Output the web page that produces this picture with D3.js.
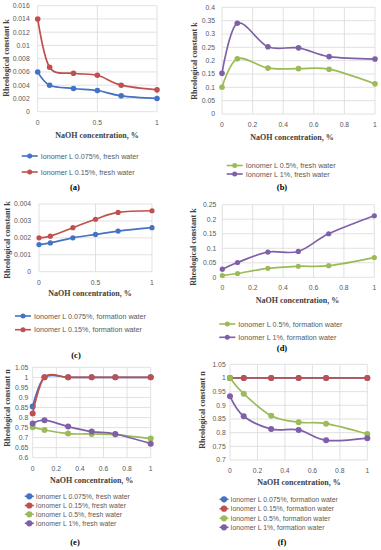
<!DOCTYPE html>
<html><head><meta charset="utf-8">
<script src="https://cdn.jsdelivr.net/npm/d3@7/dist/d3.min.js"></script>
<style>body{margin:0;background:#fff}svg{display:block}</style>
</head><body>
<script>
// ---------- DATA ----------
const naoh = [0, 0.1, 0.3, 0.5, 0.7, 1];

// (a) k, fresh water
const kFresh075 = [0.006, 0.004, 0.0035, 0.0032, 0.0024, 0.002];
const kFresh015 = [0.014, 0.0067, 0.0058, 0.0055, 0.004, 0.0033];
// (b) k, fresh water
const kFresh05 = [0.1, 0.207, 0.172, 0.17, 0.168, 0.113];
const kFresh1 = [0.153, 0.34, 0.252, 0.248, 0.215, 0.206];
// (c) k, formation water
const kForm075 = [0.0016, 0.0017, 0.002, 0.0022, 0.0024, 0.0026];
const kForm015 = [0.002, 0.0021, 0.0026, 0.0031, 0.0035, 0.0036];
// (d) k, formation water
const kForm05 = [0.006, 0.013, 0.031, 0.038, 0.04, 0.068];
const kForm1 = [0.028, 0.051, 0.087, 0.089, 0.15, 0.212];
// (e) n, fresh water
const nFresh075 = [0.855, 1.0, 1.0, 1.0, 1.0, 1.0];
const nFresh015 = [0.82, 1.0, 1.0, 1.0, 1.0, 1.0];
const nFresh05 = [0.752, 0.738, 0.72, 0.718, 0.715, 0.695];
const nFresh1 = [0.77, 0.787, 0.755, 0.73, 0.718, 0.67];
// (f) n, formation water
const nForm075 = [1.0, 1.0, 1.0, 1.0, 1.0, 1.0];
const nForm015 = [1.0, 1.0, 1.0, 1.0, 1.0, 1.0];
const nForm05 = [1.0, 0.942, 0.862, 0.838, 0.833, 0.795];
const nForm1 = [0.933, 0.86, 0.813, 0.81, 0.772, 0.78];

// tick values
const xTicksHalf = [0, 0.5, 1];
const xTicksFifth = [0, 0.2, 0.4, 0.6, 0.8, 1];
const yTicksA = [0, 0.002, 0.004, 0.006, 0.008, 0.01, 0.012, 0.014, 0.016];
const yTicksB = [0, 0.05, 0.1, 0.15, 0.2, 0.25, 0.3, 0.35, 0.4];
const yTicksC = [0, 0.001, 0.002, 0.003, 0.004];
const yTicksD = [0, 0.05, 0.1, 0.15, 0.2, 0.25];
const yTicksE = [0.6, 0.65, 0.7, 0.75, 0.8, 0.85, 0.9, 0.95, 1, 1.05];
const yTicksF = [0.7, 0.75, 0.8, 0.85, 0.9, 0.95, 1, 1.05];

const namesA = ["Ionomer L 0.075%, fresh water", "Ionomer L 0.15%, fresh water"];
const namesB = ["Ionomer L 0.5%, fresh water", "Ionomer L 1%, fresh water"];
const namesC = ["Ionomer L 0.075%, formation water", "Ionomer L 0.15%, formation water"];
const namesD = ["Ionomer L 0.5%, formation water", "Ionomer L 1%, formation water"];
const namesE = ["Ionomer L 0.075%, fresh water", "Ionomer L 0.15%, fresh water", "Ionomer L 0.5%, fresh water", "Ionomer L 1%, fresh water"];
const namesF = ["Ionomer L 0.075%, formation water", "Ionomer L 0.15%, formation water", "Ionomer L 0.5%, formation water", "Ionomer L 1%, formation water"];
const panelLabels = ["(a)", "(b)", "(c)", "(d)", "(e)", "(f)"];
const xTitle = "NaOH concentration, %";
const yTitleK = "Rheological constant k";
const yTitleN = "Rheological constant n";

// ---------- STYLE ----------
const C = {blue: "#4472C4", red: "#C0504D", green: "#9BBB59", purple: "#7F5FA8"};
const W = 381, H = 550;
const SANS = "Liberation Sans, Arial, sans-serif";
const SERIF = "Liberation Serif, Times New Roman, serif";
const svg = d3.select("body").append("svg").attr("width", W).attr("height", H);
const fmt = v => v === 0 ? "0" : String(+v.toFixed(6));

function panel(p) {
  const x = d3.scaleLinear().domain([0, 1]).range([p.l, p.r]);
  const y = d3.scaleLinear().domain(p.yd).range([p.b, p.t]);
  const g = svg.append("g");
  // grid
  g.selectAll(".hg").data(p.yt).join("line")
    .attr("x1", p.l).attr("x2", p.r).attr("y1", d => y(d)).attr("y2", d => y(d))
    .attr("stroke", "#D9D9D9").attr("stroke-width", 0.8);
  g.selectAll(".vg").data(p.xt).join("line")
    .attr("y1", p.t).attr("y2", p.b).attr("x1", d => x(d)).attr("x2", d => x(d))
    .attr("stroke", "#D9D9D9").attr("stroke-width", 0.8);
  // tick labels
  g.selectAll(".yl").data(p.yt).join("text")
    .attr("x", p.l - p.gap).attr("y", d => y(d)).attr("dy", "0.35em")
    .attr("text-anchor", "end").attr("font-family", SANS)
    .attr("font-size", 6.8).attr("fill", "#595959").text(fmt);
  g.selectAll(".xl").data(p.xt).join("text")
    .attr("x", d => x(d)).attr("y", p.b + 13)
    .attr("text-anchor", "middle").attr("font-family", SANS)
    .attr("font-size", 6.8).attr("fill", "#595959").text(fmt);
  // titles
  g.append("text").attr("x", p.xtx).attr("y", p.xty).attr("text-anchor", "middle")
    .attr("font-family", SERIF).attr("font-weight", "bold")
    .attr("font-size", 8).attr("fill", "#404040").text(xTitle);
  g.append("text").attr("transform", `translate(${p.ytx},${p.yty}) rotate(-90)`).attr("text-anchor", "middle")
    .attr("font-family", SERIF).attr("font-weight", "bold")
    .attr("font-size", 8).attr("fill", "#404040").text(p.ytitle);
  // series
  const line = d3.line().x((d, i) => x(naoh[i])).y(d => y(d)).curve(d3.curveCatmullRom.alpha(0));
  p.series.forEach(s => {
    g.append("path").attr("d", line(s.v)).attr("fill", "none")
      .attr("stroke", s.c).attr("stroke-width", 1.7);
    g.selectAll(null).data(s.v).join("circle")
      .attr("cx", (d, i) => x(naoh[i])).attr("cy", d => y(d)).attr("r", p.mr)
      .attr("fill", s.c);
  });
  // legend
  p.series.forEach((s, i) => {
    const ly = p.legY[i];
    if (p.legLine) {
      g.append("line").attr("x1", p.legX).attr("x2", p.legX + 16).attr("y1", ly).attr("y2", ly)
        .attr("stroke", s.c).attr("stroke-width", 1.6);
      g.append("circle").attr("cx", p.legX + 8).attr("cy", ly).attr("r", 2.5).attr("fill", s.c);
      g.append("text").attr("x", p.legX + 19).attr("y", ly).attr("dy", "0.35em")
        .attr("font-family", SANS).attr("font-size", 7.2)
        .attr("fill", "#595959").text(s.n);
    } else {
      g.append("line").attr("x1", p.legX - 4.5).attr("x2", p.legX + 4.5).attr("y1", ly).attr("y2", ly)
        .attr("stroke", s.c).attr("stroke-width", 1.6);
      g.append("circle").attr("cx", p.legX).attr("cy", ly).attr("r", 3.1).attr("fill", s.c);
      g.append("text").attr("x", p.legX + 6.5).attr("y", ly).attr("dy", "0.35em")
        .attr("font-family", SANS).attr("font-size", 6.9)
        .attr("fill", "#595959").text(s.n);
    }
  });
  g.append("text").attr("x", p.labX).attr("y", p.labY).attr("text-anchor", "middle")
    .attr("font-family", SERIF).attr("font-weight", "bold")
    .attr("font-size", 8.5).attr("fill", "#000").text(p.lab);
}

panel({l: 37.7, r: 157, t: 5.7, b: 111.7, yd: [0, 0.016], yt: yTicksA, xt: xTicksHalf, gap: 8,
  xtx: 97, xty: 138, ytx: 8.5, yty: 58, ytitle: yTitleK, mr: 2.8,
  series: [{v: kFresh075, c: C.blue, n: namesA[0]}, {v: kFresh015, c: C.red, n: namesA[1]}],
  legLine: true, legX: 21.7, legY: [156, 172], labX: 75, labY: 190, lab: panelLabels[0]});

panel({l: 222, r: 375, t: 7.3, b: 114, yd: [0, 0.4], yt: yTicksB, xt: xTicksFifth, gap: 7,
  xtx: 292, xty: 140, ytx: 196.5, yty: 61, ytitle: yTitleK, mr: 2.8,
  series: [{v: kFresh05, c: C.green, n: namesB[0]}, {v: kFresh1, c: C.purple, n: namesB[1]}],
  legLine: true, legX: 226.7, legY: [165.5, 174], labX: 282, labY: 190, lab: panelLabels[1]});

panel({l: 39, r: 152, t: 204, b: 271.7, yd: [0, 0.004], yt: yTicksC, xt: xTicksHalf, gap: 8,
  xtx: 90, xty: 296, ytx: 9.8, yty: 240, ytitle: yTitleK, mr: 2.6,
  series: [{v: kForm075, c: C.blue, n: namesC[0]}, {v: kForm015, c: C.red, n: namesC[1]}],
  legLine: true, legX: 15, legY: [316, 329.7], labX: 76, labY: 358, lab: panelLabels[2]});

panel({l: 222.3, r: 374.3, t: 204.7, b: 277.3, yd: [0, 0.25], yt: yTicksD, xt: xTicksFifth, gap: 6,
  xtx: 297.5, xty: 303, ytx: 196, yty: 247, ytitle: yTitleK, mr: 2.6,
  series: [{v: kForm05, c: C.green, n: namesD[0]}, {v: kForm1, c: C.purple, n: namesD[1]}],
  legLine: true, legX: 219.3, legY: [324, 337.3], labX: 282, labY: 351, lab: panelLabels[3]});

panel({l: 32.7, r: 150.7, t: 367.3, b: 457.7, yd: [0.6, 1.05], yt: yTicksE, xt: xTicksFifth, gap: 4.4,
  xtx: 91.7, xty: 483, ytx: 9.8, yty: 408, ytitle: yTitleN, mr: 3,
  series: [{v: nFresh075, c: C.blue, n: namesE[0]}, {v: nFresh015, c: C.red, n: namesE[1]},
           {v: nFresh05, c: C.green, n: namesE[2]}, {v: nFresh1, c: C.purple, n: namesE[3]}],
  legLine: false, legX: 29.3, legY: [496.3, 505.5, 514.3, 523.3], labX: 75, labY: 545, lab: panelLabels[4]});

panel({l: 230, r: 367.3, t: 364.3, b: 460, yd: [0.7, 1.05], yt: yTicksF, xt: xTicksFifth, gap: 4.3,
  xtx: 299, xty: 484.5, ytx: 205, yty: 410, ytitle: yTitleN, mr: 3,
  series: [{v: nForm075, c: C.blue, n: namesF[0]}, {v: nForm015, c: C.red, n: namesF[1]},
           {v: nForm05, c: C.green, n: namesF[2]}, {v: nForm1, c: C.purple, n: namesF[3]}],
  legLine: false, legX: 224, legY: [499.3, 508.7, 518.3, 527.3], labX: 282, labY: 545, lab: panelLabels[5]});
</script>
</body></html>
